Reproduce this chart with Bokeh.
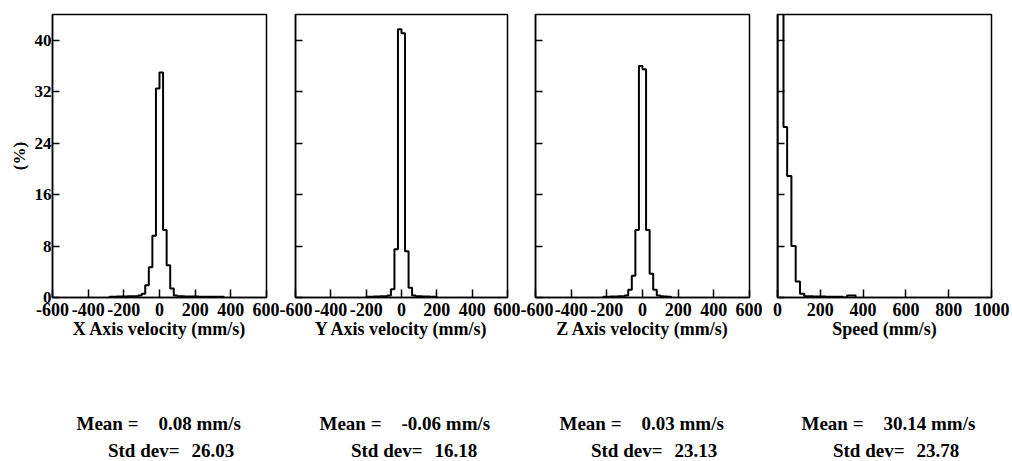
import numpy as np
from bokeh.plotting import figure
from bokeh.layouts import column, row
from bokeh.models import Range1d, FixedTicker
from bokeh.core.properties import value
from bokeh.embed import file_html
from bokeh.resources import INLINE

FONT = "'Liberation Serif', 'Times New Roman', serif"

# ---------------- data ----------------
titles = ["X Axis velocity (mm/s)", "Y Axis velocity (mm/s)",
          "Z Axis velocity (mm/s)", "Speed (mm/s)"]

x_edges = list(range(-280, 361, 20))
x_pct = [0.1, 0.1, 0.15, 0.15, 0.15, 0.2, 0.2, 0.2, 0.3,
         0.6, 1.9, 4.7, 9.6, 32.5, 35.0, 10.5, 5.0, 1.4, 0.3,
         0.2, 0.2, 0.15, 0.15, 0.15, 0.15, 0.1, 0.1, 0.1, 0.1, 0.1, 0.1, 0.1]

y_edges = list(range(-200, 201, 20))
y_pct = [0.1, 0.1, 0.15, 0.15, 0.2, 0.2, 0.3,
         1.3, 7.5, 41.7, 41.1, 7.2, 1.5,
         0.3, 0.2, 0.2, 0.15, 0.15, 0.1, 0.1]

z_edges = list(range(-220, 161, 20))
z_pct = [0.1, 0.1, 0.15, 0.15, 0.2, 0.2, 0.3,
         1.2, 3.4, 10.5, 36.0, 35.5, 10.5, 3.7, 1.2,
         0.3, 0.2, 0.15, 0.1]

s_edges = [0, 28, 45, 65, 85, 105, 125, 145, 165, 185, 205, 225, 245,
           265, 285, 305, 325, 345, 365]
s_pct = [45.0, 26.5, 18.9, 8.0, 2.5, 0.6,
         0.2, 0.2, 0.15, 0.15, 0.15, 0.1, 0.1, 0.1, 0.1,
         0.0, 0.3, 0.3]

x_ranges = [(-600, 600), (-600, 600), (-600, 600), (0, 1000)]
x_ticks = [[-600, -400, -200, 0, 200, 400, 600]] * 3 + [[0, 200, 400, 600, 800, 1000]]
y_ticks = [0, 8, 16, 24, 32, 40]

mean_vals = ["0.08 mm/s", "-0.06 mm/s", "0.03 mm/s", "30.14 mm/s"]
std_vals = ["26.03", "16.18", "23.13", "23.78"]

edges_all = [x_edges, y_edges, z_edges, s_edges]
pct_all = [x_pct, y_pct, z_pct, s_pct]

# ---------------- layout ----------------
fig_w = [279, 241, 242, 249]
b_left = [52, 16, 15, 15]
b_right = [13, 13, 13, 20]
TOP_H = 347
BOT_H = 114


def outline(edges, vals):
    e = np.asarray(edges, dtype=float)
    v = np.asarray(vals, dtype=float)
    xs = np.concatenate([[e[0]], np.repeat(e, 2)[1:-1], [e[-1]]])
    ys = np.concatenate([[0.0], np.repeat(v, 2), [0.0]])
    return xs, ys


top, bottom = [], []
for i in range(4):
    fw = fig_w[i] - b_left[i] - b_right[i]
    p = figure(width=fig_w[i], height=TOP_H,
               x_range=Range1d(*x_ranges[i]), y_range=Range1d(0, 44),
               output_backend="svg", toolbar_location=None,
               min_border_left=b_left[i], min_border_right=b_right[i],
               min_border_top=14, min_border_bottom=50)
    p.xgrid.visible = False
    p.ygrid.visible = False
    p.outline_line_color = "black"
    p.outline_line_width = 1.5
    p.background_fill_color = "white"
    p.border_fill_color = "white"

    xs, ys = outline(edges_all[i], pct_all[i])
    p.line(xs, ys, line_color="black", line_width=2)

    xa = p.xaxis[0]
    xa.ticker = FixedTicker(ticks=x_ticks[i])
    xa.major_label_overrides = {t: str(t) for t in x_ticks[i]}
    xa.axis_label = titles[i]
    ya = p.yaxis[0]
    ya.ticker = FixedTicker(ticks=y_ticks)
    for ax in (xa, ya):
        ax.axis_line_color = "black"
        ax.axis_line_width = 1.5
        ax.major_tick_line_color = "black"
        ax.major_tick_line_width = 1.5
        ax.major_tick_out = 0
        ax.minor_tick_line_color = None
        ax.major_label_text_font = FONT
        ax.major_label_text_font_style = "bold"
        ax.major_label_text_color = "black"
        ax.axis_label_text_font = FONT
        ax.axis_label_text_font_style = "bold"
        ax.axis_label_text_color = "black"
    xa.major_tick_in = 8
    ya.major_tick_in = 7
    xa.major_label_text_font_size = "18px"
    xa.major_label_standoff = 5
    xa.axis_label_text_font_size = "18px"
    xa.axis_label_standoff = 0
    if i == 0:
        ya.axis_label = "(%)"
        ya.major_label_text_font_size = "17px"
        ya.major_label_standoff = 1
        ya.axis_label_text_font_size = "17px"
        ya.axis_label_standoff = 3
    else:
        ya.major_label_text_color = None
        ya.major_label_standoff = 0
    top.append(p)

    q = figure(width=fig_w[i], height=BOT_H,
               x_range=Range1d(0, fw), y_range=Range1d(0, BOT_H),
               output_backend="svg", toolbar_location=None,
               x_axis_location=None, y_axis_location=None,
               min_border_left=b_left[i], min_border_right=b_right[i],
               min_border_top=0, min_border_bottom=0)
    q.xgrid.visible = False
    q.ygrid.visible = False
    q.outline_line_color = None
    q.text(x=[86, 127], y=[38, 11], text=["Mean =", "Std dev="],
           text_font=value(FONT), text_font_style="bold",
           text_font_size="19px", text_align="right", text_baseline="middle",
           text_color="black")
    q.text(x=[106, 139], y=[38, 11], text=[mean_vals[i], std_vals[i]],
           text_font=value(FONT), text_font_style="bold",
           text_font_size="19px", text_align="left", text_baseline="middle",
           text_color="black")
    bottom.append(q)

layout = column(row(*top), row(*bottom))
open("out.html", "w").write(file_html(layout, INLINE))
